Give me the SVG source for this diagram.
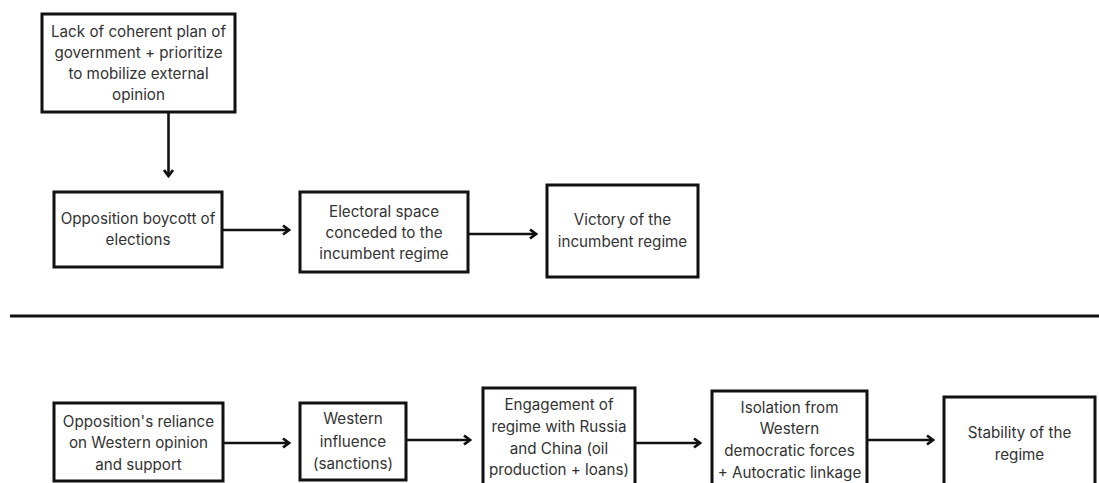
<svg xmlns="http://www.w3.org/2000/svg" width="1099" height="483" viewBox="0 0 1099 483">
<style>
.box{fill:#fff;stroke:#111;stroke-width:3}
.t{font-family:Inter,"Liberation Sans",sans-serif;font-size:15.2px;fill:#333;text-anchor:middle}
.c{stroke:#111;stroke-width:2.6;fill:none}
</style>
<defs>
<marker id="ah" viewBox="0 0 12 12" refX="10" refY="6" markerWidth="12" markerHeight="12" markerUnits="userSpaceOnUse" orient="auto">
<path d="M4,1.5 L10,6 L4,10.5" fill="none" stroke="#111" stroke-width="2.8" stroke-linejoin="miter"/>
</marker>
</defs>
<rect width="1099" height="483" fill="#fff"/>
<g id="connectors">
<line class="c" x1="168.5" y1="113" x2="168.5" y2="176" marker-end="url(#ah)"/>
<line class="c" x1="223" y1="230" x2="289" y2="230" marker-end="url(#ah)"/>
<line class="c" x1="468" y1="234" x2="536" y2="234" marker-end="url(#ah)"/>
<line class="c" x1="223" y1="443" x2="289" y2="443" marker-end="url(#ah)"/>
<line class="c" x1="406" y1="440" x2="470" y2="440" marker-end="url(#ah)"/>
<line class="c" x1="635" y1="443" x2="700" y2="443" marker-end="url(#ah)"/>
<line class="c" x1="867" y1="440" x2="933" y2="440" marker-end="url(#ah)"/>
</g>
<line id="separator" x1="10" y1="316" x2="1099" y2="316" stroke="#111" stroke-width="3"/>
<g id="n1"><rect class="box" x="42" y="14" width="193" height="98"/>
<text class="t" x="138.5" y="37">Lack of coherent plan of</text>
<text class="t" x="138.5" y="58">government + prioritize</text>
<text class="t" x="138.5" y="79">to mobilize external</text>
<text class="t" x="138.5" y="100">opinion</text></g>
<g id="n2"><rect class="box" x="54" y="192" width="168" height="75"/>
<text class="t" x="138" y="224">Opposition boycott of</text>
<text class="t" x="138" y="245">elections</text></g>
<g id="n3"><rect class="box" x="300" y="192" width="168" height="80"/>
<text class="t" x="384" y="217">Electoral space</text>
<text class="t" x="384" y="238">conceded to the</text>
<text class="t" x="384" y="259">incumbent regime</text></g>
<g id="n4"><rect class="box" x="547" y="185" width="151" height="92"/>
<text class="t" x="622.5" y="225">Victory of the</text>
<text class="t" x="622.5" y="247">incumbent regime</text></g>
<g id="n5"><rect class="box" x="54" y="403" width="169" height="78"/>
<text class="t" x="138.5" y="427">Opposition's reliance</text>
<text class="t" x="138.5" y="448">on Western opinion</text>
<text class="t" x="138.5" y="470">and support</text></g>
<g id="n6"><rect class="box" x="300" y="403" width="106" height="77"/>
<text class="t" x="353" y="424">Western</text>
<text class="t" x="353" y="447">influence</text>
<text class="t" x="353" y="469">(sanctions)</text></g>
<g id="n7"><rect class="box" x="483" y="388" width="152" height="105"/>
<text class="t" x="559" y="410">Engagement of</text>
<text class="t" x="559" y="432">regime with Russia</text>
<text class="t" x="559" y="454">and China (oil</text>
<text class="t" x="559" y="475">production + loans)</text></g>
<g id="n8"><rect class="box" x="712" y="391" width="155" height="102"/>
<text class="t" x="789.5" y="413">Isolation from</text>
<text class="t" x="789.5" y="434">Western</text>
<text class="t" x="789.5" y="456">democratic forces</text>
<text class="t" x="789.5" y="478">+ Autocratic linkage</text></g>
<g id="n9"><rect class="box" x="944" y="397" width="151" height="96"/>
<text class="t" x="1019.5" y="438">Stability of the</text>
<text class="t" x="1019.5" y="460">regime</text></g>
</svg>
